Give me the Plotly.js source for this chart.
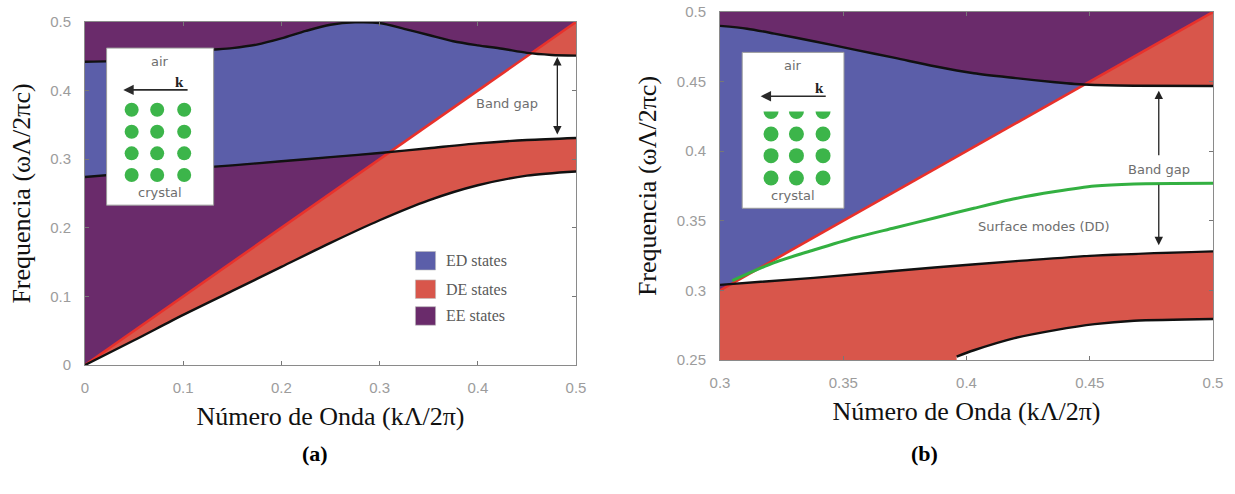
<!DOCTYPE html>
<html>
<head>
<meta charset="utf-8">
<script src="https://cdn.plot.ly/plotly-3.0.1.min.js"></script>
<style>html,body{margin:0;padding:0;background:#fff;}#chart{width:1235px;height:494px;}</style>
</head>
<body>
<div id="chart"></div>
<script>
// ---------------- DATA ----------------
// Panel (a): full zone, k from 0 to 0.5
const kA_f1 = [0, 0.05, 0.1, 0.15, 0.2, 0.25, 0.3, 0.35, 0.4, 0.45, 0.5];
const f1A   = [0, 0.036, 0.073, 0.108, 0.143, 0.178, 0.211, 0.240, 0.262, 0.276, 0.282];   // lower edge of band 1
const kA_g1 = [0, 0.05, 0.1, 0.15, 0.2, 0.25, 0.3, 0.35, 0.4, 0.45, 0.5];
const g1A   = [0.274, 0.280, 0.286, 0.291, 0.297, 0.303, 0.309, 0.316, 0.323, 0.328, 0.331]; // upper edge of band 1
const kA_h  = [0, 0.025, 0.05, 0.075, 0.1, 0.125, 0.15, 0.175, 0.2, 0.225, 0.25, 0.275, 0.3, 0.325, 0.35, 0.375, 0.4, 0.425, 0.45, 0.475, 0.5];
const hA    = [0.442, 0.443, 0.446, 0.450, 0.455, 0.459, 0.462, 0.467, 0.476, 0.487, 0.496, 0.4995, 0.4985, 0.490, 0.481, 0.472, 0.466, 0.461, 0.455, 0.452, 0.451]; // lower edge of band 2
const lightA = {k: [0, 0.5], w: [0, 0.5]};

// Panel (b): zoom, k from 0.3 to 0.5
const kB_f1 = [0.396, 0.403, 0.4195, 0.436, 0.452, 0.468, 0.5];
const f1B   = [0.2525, 0.257, 0.2657, 0.2715, 0.2758, 0.2782, 0.2795];
const kB_g1 = [0.3, 0.338, 0.387, 0.42, 0.452, 0.5];
const g1B   = [0.304, 0.309, 0.3165, 0.321, 0.325, 0.328];
const kB_h  = [0.3, 0.311, 0.322, 0.338, 0.3545, 0.371, 0.387, 0.403, 0.42, 0.436, 0.444, 0.452, 0.468, 0.5];
const hB    = [0.490, 0.488, 0.4845, 0.479, 0.473, 0.467, 0.461, 0.456, 0.4525, 0.4495, 0.4483, 0.4476, 0.447, 0.4468];
const kB_s  = [0.305, 0.322, 0.338, 0.355, 0.371, 0.387, 0.403, 0.42, 0.436, 0.452, 0.468, 0.5];
const surfB = [0.307, 0.320, 0.329, 0.338, 0.345, 0.352, 0.359, 0.366, 0.371, 0.375, 0.3765, 0.377]; // surface modes (DD)
const lightB = {k: [0.3, 0.5], w: [0.3, 0.5]};

// Tick values
const ticksA_x = [0, 0.1, 0.2, 0.3, 0.4, 0.5];
const ticksA_y = [0, 0.1, 0.2, 0.3, 0.4, 0.5];
const ticksB_x = [0.3, 0.35, 0.4, 0.45, 0.5];
const ticksB_y = [0.25, 0.3, 0.35, 0.4, 0.45, 0.5];

// Legend categories
const stateNames = ['ED states', 'DE states', 'EE states'];

// ---------------- STYLE ----------------
const C = {ED: '#5b5ea9', DE: '#d8564b', EE: '#6a2b6b', light: '#e8312b', band: '#111111', surf: '#33b041', dot: '#3cb54a'};
const COLORS = [C.ED, C.DE, C.EE];

// ---------------- helpers ----------------
function crossLight(xs, ys) {
  for (let i = 0; i < xs.length - 1; i++) {
    const d0 = ys[i] - xs[i], d1 = ys[i + 1] - xs[i + 1];
    if (d0 === 0) return xs[i];
    if ((d0 > 0) !== (d1 > 0)) {
      const t = d0 / (d0 - d1);
      return xs[i] + t * (xs[i + 1] - xs[i]);
    }
  }
  return xs[xs.length - 1];
}
function poly(px, py, color, xa, ya) {
  return {x: px.concat([px[0]]), y: py.concat([py[0]]), mode: 'lines', fill: 'toself', fillcolor: color,
          line: {width: 0, color: color}, hoverinfo: 'skip', showlegend: false, xaxis: xa, yaxis: ya};
}
function line(xs, ys, color, width, xa, ya, shape) {
  return {x: xs, y: ys, mode: 'lines', line: {color: color, width: width, shape: shape || 'spline', smoothing: 0.8},
          hoverinfo: 'skip', showlegend: false, xaxis: xa, yaxis: ya};
}

function panelTraces(p, xa, ya) {
  const t = [];
  const xr = p.xr, yr = p.yr;
  // ED: crystal gap (between band edges g1 and h)
  t.push(poly(p.kg.concat(p.kh.slice().reverse()), p.g.concat(p.h.slice().reverse()), C.ED, xa, ya));
  // DE: everything below the light line (crystal band states)
  t.push(poly([xr[0], xr[0], p.light.k[1], xr[1]], [yr[0], Math.max(xr[0], yr[0]), p.light.w[1], yr[0]], C.DE, xa, ya));
  // white: below the first band
  t.push(poly(p.kf.concat([p.kf[p.kf.length - 1], p.kf[0]]), p.f.concat([yr[0], yr[0]]), '#ffffff', xa, ya));
  // white: band gap below the light line
  const x1 = crossLight(p.kg, p.g), x2 = crossLight(p.kh, p.h);
  const gx = [x1, x2], gy = [x1, x2];
  p.kh.forEach((k, i) => { if (k > x2) { gx.push(k); gy.push(p.h[i]); } });
  for (let i = p.kg.length - 1; i >= 0; i--) { if (p.kg[i] > x1) { gx.push(p.kg[i]); gy.push(p.g[i]); } }
  t.push(poly(gx, gy, '#ffffff', xa, ya));
  // light line
  t.push(line(p.light.k, p.light.w, C.light, 2.6, xa, ya, 'linear'));
  // band edges
  t.push(line(p.kf, p.f, C.band, 2.4, xa, ya));
  t.push(line(p.kg, p.g, C.band, 2.4, xa, ya));
  t.push(line(p.kh, p.h, C.band, 2.4, xa, ya));
  if (p.ks) t.push(line(p.ks, p.s, C.surf, 3, xa, ya));
  // inset box
  const b = p.inset;
  t.push({x: [b.x0, b.x1, b.x1, b.x0, b.x0], y: [b.y0, b.y0, b.y1, b.y1, b.y0], mode: 'lines', fill: 'toself',
          fillcolor: '#ffffff', line: {color: '#9a9a9a', width: 1}, hoverinfo: 'skip', showlegend: false, xaxis: xa, yaxis: ya});
  const dx = [], dy = [];
  b.rows.forEach(r => b.cols.forEach(c => { dx.push(c); dy.push(r); }));
  t.push({x: dx, y: dy, mode: 'markers', marker: {size: b.dot, color: C.dot}, hoverinfo: 'skip', showlegend: false, xaxis: xa, yaxis: ya});
  if (b.halfRow !== undefined) {
    t.push({x: b.cols, y: b.cols.map(() => b.halfRow), mode: 'markers', marker: {size: b.dot, color: C.dot}, hoverinfo: 'skip', showlegend: false, xaxis: xa, yaxis: ya});
    const cx0 = b.x0 + 0.002, cx1 = b.x1 - 0.002, cy0 = b.halfRow, cy1 = b.halfRow + b.halfCover;
    t.push({x: [cx0, cx1, cx1, cx0, cx0], y: [cy0, cy0, cy1, cy1, cy0], mode: 'lines', fill: 'toself', fillcolor: '#ffffff',
            line: {width: 0, color: '#ffffff'}, hoverinfo: 'skip', showlegend: false, xaxis: xa, yaxis: ya});
  }
  return t;
}

const panelA = {xr: [0, 0.5], yr: [0, 0.5], kf: kA_f1, f: f1A, kg: kA_g1, g: g1A, kh: kA_h, h: hA, light: lightA,
  inset: {x0: 0.022, x1: 0.131, y0: 0.233, y1: 0.462, cols: [0.0475, 0.0735, 0.101], rows: [0.372, 0.340, 0.3085, 0.277], dot: 14,
          air: 0.443, crystal: 0.251, arrowY: 0.401, arrowX0: 0.039, arrowX1: 0.106, kx: 0.096, ky: 0.413}};
const panelB = {xr: [0.3, 0.5], yr: [0.25, 0.5], kf: kB_f1, f: f1B, kg: kB_g1, g: g1B, kh: kB_h, h: hB, light: lightB, ks: kB_s, s: surfB,
  inset: {x0: 0.309, x1: 0.3503, y0: 0.359, y1: 0.471, cols: [0.3207, 0.331, 0.3418], rows: [0.4124, 0.3968, 0.3808], halfRow: 0.4285, halfCover: 0.0075, dot: 15,
          air: 0.4615, crystal: 0.368, arrowY: 0.4395, arrowX0: 0.3165, arrowX1: 0.3435, kx: 0.3405, ky: 0.4455}};

const data = panelTraces(panelA, 'x', 'y').concat(panelTraces(panelB, 'x2', 'y2'));

// ---------------- LAYOUT ----------------
const tickFont = {family: 'Liberation Sans, Arial, sans-serif', size: 15, color: '#9c9c9c'};
const titleFont = {family: 'Liberation Serif, Times New Roman, serif', size: 26, color: '#111'};
function ax(extra) {
  return Object.assign({ticks: 'inside', ticklen: 4, tickcolor: '#777', tickwidth: 1, showline: true, linecolor: '#8a8a8a', linewidth: 1,
    mirror: 'ticks', showgrid: false, zeroline: false, tickfont: tickFont, tickmode: 'array', fixedrange: true}, extra);
}
const W = 1235, H = 494;
const layout = {
  width: W, height: H, margin: {l: 0, r: 0, t: 0, b: 0}, paper_bgcolor: '#ffffff', plot_bgcolor: C.EE, showlegend: false,
  xaxis: ax({domain: [85 / W, 576 / W], range: panelA.xr, tickvals: ticksA_x, ticktext: ticksA_x.map(String), anchor: 'y', ticklabelstandoff: 9,
    title: {text: 'Número de Onda (kΛ/2π)', font: titleFont, standoff: 11}}),
  yaxis: ax({domain: [1 - 365 / H, 1 - 22 / H], range: panelA.yr, tickvals: ticksA_y, ticktext: ticksA_y.map(String), anchor: 'x', ticklabelstandoff: 10,
    title: {text: 'Frequencia (ωΛ/2πc)', font: titleFont, standoff: 12}}),
  xaxis2: ax({domain: [720 / W, 1213 / W], range: panelB.xr, tickvals: ticksB_x, ticktext: ticksB_x.map(String), anchor: 'y2', ticklabelstandoff: 9,
    title: {text: 'Número de Onda (kΛ/2π)', font: titleFont, standoff: 11}}),
  yaxis2: ax({domain: [1 - 360 / H, 1 - 12 / H], range: panelB.yr, tickvals: ticksB_y, ticktext: ticksB_y.map(String), anchor: 'x2', ticklabelstandoff: 10,
    title: {text: 'Frequencia (ωΛ/2πc)', font: titleFont, standoff: 12}}),
  annotations: [], shapes: []
};

const grayText = {family: 'DejaVu Sans, sans-serif', size: 13, color: '#6e6e6e'};
function insetAnnots(p, xr, yr) {
  const b = p.inset, cx = (b.x0 + b.x1) / 2;
  layout.annotations.push(
    {xref: xr, yref: yr, x: cx, y: b.air, text: 'air', showarrow: false, font: grayText},
    {xref: xr, yref: yr, x: cx, y: b.crystal, text: 'crystal', showarrow: false, font: grayText},
    {xref: xr, yref: yr, axref: xr, ayref: yr, x: b.arrowX0, y: b.arrowY, ax: b.arrowX1, ay: b.arrowY, text: '', showarrow: true,
     arrowhead: 2, arrowsize: 1.3, arrowwidth: 1.6, arrowcolor: '#2a2a2a', standoff: 0, startstandoff: 0},
    {xref: xr, yref: yr, x: b.kx, y: b.ky, text: '<b>k</b>', showarrow: false, font: {family: 'Liberation Serif, serif', size: 15, color: '#222'}}
  );
}
insetAnnots(panelA, 'x', 'y');
insetAnnots(panelB, 'x2', 'y2');

// Band gap arrows and labels
const arrowStyle = {text: '', showarrow: true, arrowhead: 2, arrowsize: 1.3, arrowwidth: 1.3, arrowcolor: '#222', standoff: 0, startstandoff: 0};
layout.annotations.push(
  Object.assign({xref: 'x', yref: 'y', axref: 'x', ayref: 'y', x: 0.481, y: 0.449, ax: 0.481, ay: 0.334, arrowside: 'end+start'}, arrowStyle),
  {xref: 'x', yref: 'y', x: 0.43, y: 0.381, text: 'Band gap', showarrow: false, font: grayText},
  Object.assign({xref: 'x2', yref: 'y2', axref: 'x2', ayref: 'y2', x: 0.478, y: 0.4435, ax: 0.478, ay: 0.396}, arrowStyle),
  Object.assign({xref: 'x2', yref: 'y2', axref: 'x2', ayref: 'y2', x: 0.478, y: 0.3325, ax: 0.478, ay: 0.377}, arrowStyle),
  {xref: 'x2', yref: 'y2', x: 0.478, y: 0.387, text: 'Band gap', showarrow: false, font: grayText},
  {xref: 'x2', yref: 'y2', x: 0.4315, y: 0.346, text: 'Surface modes (DD)', showarrow: false, font: grayText},
  {xref: 'paper', yref: 'paper', x: 300 / W, y: 1 - 468 / H, text: '<b>(a)</b>', showarrow: false, font: {family: 'Liberation Serif, serif', size: 22, color: '#000'}},
  {xref: 'paper', yref: 'paper', x: 940 / W, y: 1 - 468 / H, text: '<b>(b)</b>', showarrow: false, font: {family: 'Liberation Serif, serif', size: 22, color: '#000'}}
);

// Legend of panel (a)
const legRows = [0.152, 0.1105, 0.0715];
stateNames.forEach((name, i) => {
  layout.shapes.push({type: 'rect', xref: 'x', yref: 'y', x0: 0.3365, x1: 0.357, y0: legRows[i] - 0.0135, y1: legRows[i] + 0.0135,
    fillcolor: COLORS[i], line: {width: 0.6, color: '#bbbbbb'}, layer: 'above'});
  layout.annotations.push({xref: 'x', yref: 'y', x: 0.366, y: legRows[i], xanchor: 'left', text: name, showarrow: false,
    font: {family: 'Liberation Serif, serif', size: 16, color: '#5a5a5a'}});
});

Plotly.newPlot('chart', data, layout, {staticPlot: true, displayModeBar: false});
</script>
</body>
</html>
